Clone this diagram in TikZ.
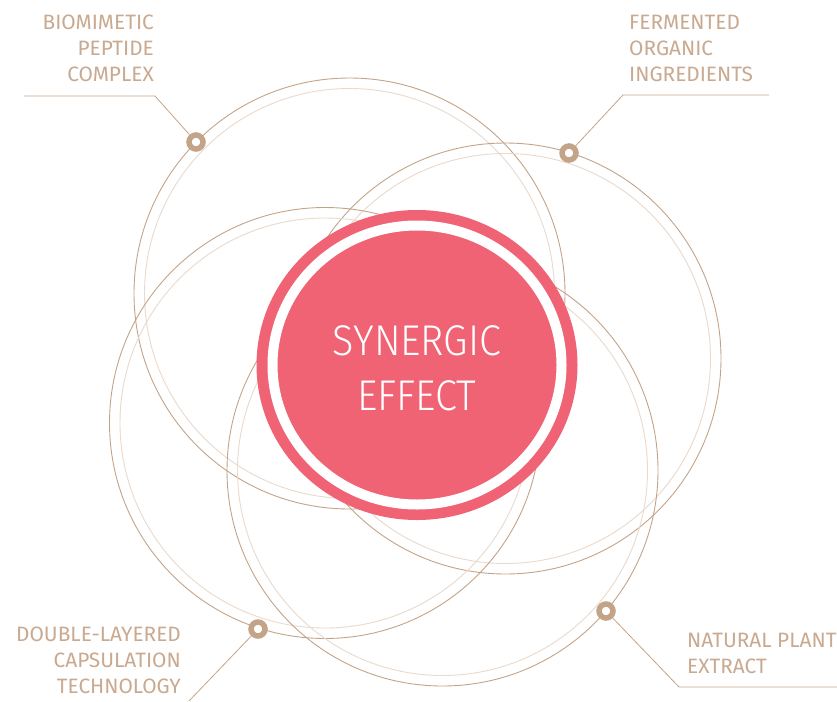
\documentclass[tikz,border=0pt]{standalone}
\usepackage{fontspec}
\setmainfont{Fira Sans}
\newfontfamily\corefont{Fira Sans Light}[FakeStretch=0.92]
\usetikzlibrary{shapes.geometric}
\definecolor{tanline}{RGB}{196,164,137}
\definecolor{tanpale}{RGB}{233,218,205}
\definecolor{tantext}{RGB}{201,169,143}
\definecolor{coral}{RGB}{240,99,116}
\begin{document}
\begin{tikzpicture}[x=1pt,y=-1pt,
  ring/.style={draw=tanline,line width=0.9pt},
  ring pale/.style={draw=tanpale,line width=0.9pt},
  knot/.style={circle,draw=tanline,line width=5.5pt,fill=white,minimum size=14pt,inner sep=0pt},
  leader/.style={draw=tanline,line width=0.8pt},
  caption/.style={text=tantext,font=\fontsize{20.8}{26}\selectfont,inner sep=0pt}]
  \useasboundingbox[fill=white] (0,0) rectangle (837,701);
  % centres of the four orbits
  \coordinate (bioC) at (349.5,293.5);
  \coordinate (ferC) at (505.5,358.5);
  \coordinate (capC) at (325,423);
  \coordinate (natC) at (442.5,470.5);
  \foreach \c in {bioC,ferC,capC,natC} {
    \draw[ring] (\c) circle (215.5pt);
    \draw[ring pale] (\c) circle (205pt);
  }
  % centre disc
  \node[ellipse,fill=coral,minimum width=321pt,minimum height=310pt,inner sep=0pt] (core) at (417,365) {};
  \draw[white,line width=10pt] (core.center) ellipse [x radius=144.5pt,y radius=139.5pt];
  \node[text=white,font=\corefont\fontsize{43}{55}\selectfont,align=center,inner sep=0pt] (coreT) at (417,368) {SYNERGIC\\EFFECT};
  % leaders
  \coordinate (bioK) at (155,96);  \coordinate (bioE) at (24,96);
  \coordinate (ferK) at (623,95);  \coordinate (ferE) at (769,95);
  \coordinate (capE) at (189,701);
  \coordinate (natK) at (679,687); \coordinate (natE) at (837,687);
  \node[knot] (bio) at (196,142) {};
  \node[knot] (fer) at (569,153) {};
  \node[knot] (cap) at (258,629) {};
  \node[knot] (nat) at (606,611) {};
  \draw[leader] (bio) -- (bioK) -- (bioE);
  \draw[leader] (fer) -- (ferK) -- (ferE);
  \draw[leader] (cap) -- (capE);
  \draw[leader] (nat) -- (natK) -- (natE);
  % labels
  \node[caption,anchor=north east,align=right] (bioT) at (154,15) {BIOMIMETIC\\PEPTIDE\\COMPLEX};
  \node[caption,anchor=north west,align=left] (ferT) at (629,15) {FERMENTED\\ORGANIC\\INGREDIENTS};
  \node[caption,anchor=north east,align=right] (capT) at (181,627) {DOUBLE-LAYERED\\CAPSULATION\\TECHNOLOGY};
  \node[caption,anchor=north west,align=left] (natT) at (687,633) {NATURAL PLANT\\EXTRACT};
\end{tikzpicture}
\end{document}
